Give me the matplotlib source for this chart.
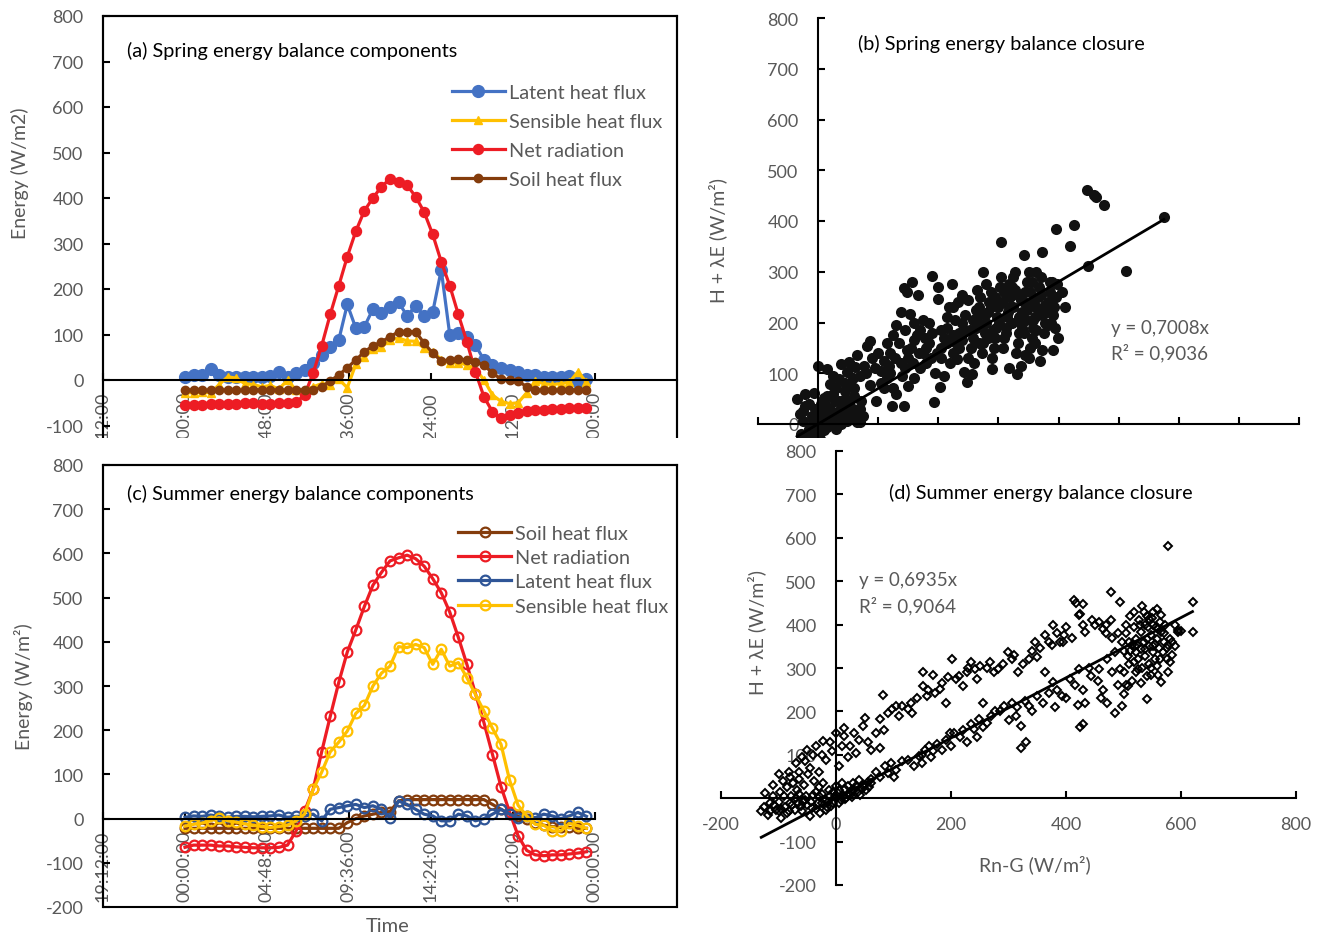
import numpy as np
import matplotlib
matplotlib.use("Agg")
import matplotlib.pyplot as plt
from matplotlib.patches import Rectangle

plt.rcParams['font.family'] = ['Lato', 'DejaVu Sans']
plt.rcParams['axes.unicode_minus'] = False
GREY = '#595959'
W, H = 1331, 937

# half-hourly time stamps (fraction of a day) and the category axis labels
t = np.arange(48) / 48.0
time_ticks = [-0.2, 0.0, 0.2, 0.4, 0.6, 0.8, 1.0]
time_labels = ['19:12:00', '00:00:00', '04:48:00', '09:36:00', '14:24:00', '19:12:00', '00:00:00']

# (a) spring mean diurnal cycle, W/m2
spr_le = [6, 10, 12, 24, 11, 6, 6, 7, 6, 7, 9, 17, 7, 15, 22, 37, 55, 73, 88, 166, 114, 117, 156, 147,
          161, 171, 141, 163, 141, 149, 242, 99, 103, 95, 77, 44, 33, 27, 22, 17, 10, 10, 7, 7, 7, 8, -4, 2]
spr_h = [-28, -28, -27, -28, -10, 7, 4, -8, -10, -15, -12, -20, 0, -22, -22, -15, -8, -10, 2, -17, 35, 50, 68, 72,
         88, 92, 86, 85, 70, 62, 45, 37, 38, 33, 25, 0, -33, -47, -52, -50, -28, -3, -8, -10, -8, -5, 18, -5]
spr_rn = [-55, -55, -54, -53, -53, -52, -52, -51, -51, -52, -52, -51, -50, -49, -33, 15, 75, 144, 207, 271, 327, 372, 400, 425,
          442, 436, 428, 403, 369, 320, 260, 207, 144, 84, 18, -37, -70, -84, -77, -73, -68, -66, -65, -64, -63, -62, -62, -62]
spr_g = [-22, -22, -23, -22, -22, -22, -23, -22, -22, -22, -22, -23, -22, -22, -22, -22, -15, -2, 11, 27, 44, 62, 75, 84,
         95, 106, 106, 106, 81, 59, 42, 44, 46, 44, 40, 33, 15, 2, 0, -2, -15, -22, -22, -22, -23, -22, -22, -22]

# (c) summer mean diurnal cycle, W/m2
sum_g = [-22, -22, -22, -22, -22, -22, -22, -22, -22, -22, -22, -22, -22, -22, -22, -22, -22, -22, -22, -9, 0, 6, 10, 14,
         16, 40, 43, 43, 43, 43, 43, 43, 43, 43, 43, 43, 32, 21, 10, 5, 0, -10, -15, -18, -20, -20, -22, -22]
sum_rn = [-65, -60, -60, -60, -62, -62, -64, -65, -66, -66, -66, -65, -60, -28, 17, 66, 151, 231, 308, 377, 427, 480, 528, 557,
          583, 590, 596, 588, 571, 543, 511, 467, 410, 349, 283, 217, 145, 72, 15, -39, -72, -82, -84, -82, -82, -80, -78, -75]
sum_le = [3, 6, 5, 8, 5, 3, 5, 5, 4, 5, 6, 8, 3, 5, 6, 10, -5, 21, 25, 29, 32, 25, 29, 21,
          2, 40, 32, 21, 10, 6, -5, -5, 10, 6, -5, 0, 10, 21, 10, 2, 6, 2, 10, 6, 0, 6, 14, 5]
sum_h = [-17, -13, -10, -5, 2, -5, -8, -12, -15, -18, -20, -18, -15, -5, 10, 66, 105, 151, 173, 198, 238, 256, 300, 329,
         345, 389, 387, 394, 387, 349, 383, 345, 353, 319, 281, 243, 204, 168, 87, 30, 6, -13, -15, -28, -28, -11, -16, -22]

# (b) spring closure: (Rn-G, H+LE) pairs
spring_low = [(-35, 49), (-22, 36), (-21, 59), (-7, 62), (10, 52), (-30, 20), (-25, 5), (-15, -10), (-10, 15), (-5, 30),
              (0, 0), (0, -20), (5, 10), (8, 25), (12, 40), (15, -5), (18, 15), (20, 30), (22, 5), (25, 20), (28, 45),
              (30, -10), (32, 10), (35, 25), (38, 0), (40, 35), (42, 15), (45, 50), (48, 5), (50, 25), (52, 40), (55, 10),
              (58, 30), (60, 55), (62, 18), (65, 3), (70, 30), (72, 45), (75, 15), (-28, -20), (-18, -25), (-8, -15),
              (3, -30), (10, -12), (21, 13), (7, 23), (-8, 7), (70, 3), (5, 40), (15, 55), (25, 60), (35, 45), (45, 65),
              (60, 70), (-15, 40), (-25, 25)]
spring_tail = [(0, 115), (15, 108), (35, 89), (38, 118), (52, 122), (62, 112), (48, 102), (76, 115), (69, 95), (86, 76),
               (97, 46), (30, 70), (45, 80), (58, 90), (25, 95), (80, 100), (90, 130), (86, 164), (81, 154), (100, 140),
               (95, 110), (65, 135), (55, 75), (20, 78), (105, 105)]
spring_mid = [(110, 125), (115, 90), (120, 140), (125, 70), (130, 195), (138, 220), (143, 267), (148, 261), (153, 217),
              (157, 280), (166, 255), (184, 199), (190, 292), (200, 269), (200, 246), (143, 36), (123, 36), (193, 43),
              (130, 60), (140, 95), (145, 110), (150, 130), (155, 150), (160, 165), (165, 175), (170, 185), (175, 140),
              (180, 120), (185, 160), (190, 180), (195, 100), (150, 75), (160, 90), (170, 110), (180, 150), (135, 160),
              (125, 175), (115, 160), (198, 140), (175, 205), (160, 200), (145, 185), (120, 100), (110, 70), (105, 80),
              (118, 115), (128, 130), (138, 120), (148, 145), (158, 120), (168, 140), (178, 170), (188, 130)]
spring_core = [(202, 72), (210, 95), (223, 276), (224, 230), (231, 129), (243, 102), (247, 82), (256, 99), (275, 299),
               (289, 108), (205, 150), (210, 170), (215, 190), (220, 120), (225, 140), (230, 160), (235, 180), (240, 200),
               (245, 215), (250, 130), (255, 150), (258, 170), (262, 190), (265, 210), (268, 230), (270, 250), (272, 140),
               (275, 160), (278, 180), (280, 200), (282, 220), (285, 240), (288, 260), (290, 130), (292, 150), (294, 170),
               (296, 190), (298, 210), (300, 230), (240, 165), (260, 120), (250, 245), (265, 265), (280, 275), (295, 250),
               (215, 210), (228, 205), (304, 358), (318, 110), (331, 99), (337, 115), (342, 333), (351, 131), (369, 125),
               (373, 146), (373, 338), (389, 280), (390, 146), (396, 384), (399, 169), (302, 270), (305, 290), (308, 150),
               (310, 170), (312, 190), (315, 210), (318, 230), (320, 250), (322, 270), (325, 290), (328, 300), (330, 140),
               (332, 160), (335, 180), (338, 200), (340, 220), (342, 240), (345, 260), (348, 280), (350, 300), (352, 150),
               (355, 170), (358, 190), (360, 210), (362, 230), (365, 250), (368, 270), (370, 290), (375, 180), (378, 200),
               (380, 220), (382, 240), (385, 260), (388, 200), (392, 230), (395, 250), (398, 275), (310, 260), (325, 230),
               (340, 190), (355, 280), (362, 300), (318, 275), (333, 255), (346, 205), (358, 240), (372, 215), (345, 135),
               (360, 160), (252, 185), (258, 205), (263, 225), (268, 160), (273, 195), (278, 215), (283, 170), (287, 230),
               (291, 185), (296, 245), (301, 200), (306, 240), (313, 180), (316, 220), (323, 200), (327, 265), (334, 210),
               (337, 245), (343, 180), (348, 225), (353, 260), (357, 205), (363, 185), (366, 225), (371, 255), (377, 235),
               (383, 195), (386, 280), (391, 215), (394, 190), (205, 130), (215, 160), (225, 175), (235, 150), (245, 185),
               (205, 185), (218, 230), (232, 240), (240, 255)]
spring_high = [(419, 350), (425, 393), (449, 312), (447, 462), (459, 451), (463, 447), (475, 432), (575, 407), (512, 302),
               (405, 260), (410, 230)]
spring_fit = (0.7008, 0.9036)

# (d) summer closure
summer_night = [(-119, -39), (-115, -12), (-123, 12), (-105, -27), (-86, -35), (-76, -15), (-61, -19), (-90, 4), (-68, 19),
                (-54, -4), (-40, 8), (-25, -12), (-11, 4), (4, 12), (18, 0), (32, 19), (-100, -30), (-95, -45), (-80, -10),
                (-70, 0), (-60, -30), (-50, -15), (-45, -40), (-35, -25), (-30, 5), (-20, -5), (-15, -20), (-5, -10), (0, 0),
                (8, -5), (12, 5), (22, 10), (28, 3), (38, 15), (45, 22), (-110, 5), (-130, -30), (-98, 15), (-85, 25),
                (-75, 35), (-65, 45), (-55, 30), (-48, 55), (-38, 40), (-30, 25), (-22, 35), (-12, 20), (0, 28), (10, 35),
                (20, 28), (-88, -20), (-72, -28), (-58, -8), (-42, -22), (-28, -35), (-18, -28), (-8, -18), (5, -12),
                (15, -2), (25, 8), (-100, -8), (-65, 10), (-35, 15), (-5, 15), (30, 35), (40, 42), (48, 30), (55, 38),
                (-125, -20), (-115, -30), (-108, -15), (-95, -25), (-82, -30), (-78, 5), (-66, -12), (-52, 5), (-44, -8),
                (-32, -10), (-24, 10), (-14, -8), (-2, 5), (6, 18), (16, 22), (26, 16), (34, 28), (42, 8), (52, 18),
                (58, 25), (-92, 40), (-82, 60), (-70, 80), (-60, 95), (-50, 110), (-35, 120), (-25, 100), (-10, 130),
                (0, 150), (10, 120), (-110, 30), (-100, 55)]
summer_upper = [(-22, 131), (-7, 108), (-40, 100), (-54, 85), (-18, 89), (-65, 60), (-80, 48), (-45, 70), (-30, 60),
                (14, 162), (14, 143), (32, 151), (40, 135), (50, 185), (47, 166), (61, 112), (76, 116), (25, 120), (5, 75),
                (20, 95), (35, 105), (55, 130), (70, 150), (81, 237), (76, 182), (83, 158), (90, 197), (97, 205), (104, 213),
                (115, 213), (133, 197), (130, 220), (151, 290), (151, 259), (159, 236), (169, 284), (173, 243), (180, 251),
                (202, 321), (191, 220), (214, 282), (220, 259), (227, 290), (234, 313), (241, 298), (245, 274), (256, 220),
                (267, 313), (274, 290), (281, 298), (299, 336), (306, 321), (317, 290), (335, 321), (346, 359), (350, 325),
                (364, 290), (364, 375), (375, 352), (378, 398), (389, 359), (396, 375), (400, 394), (414, 456), (422, 421),
                (429, 448), (433, 383), (450, 398), (458, 406), (465, 390), (479, 475), (494, 452), (479, 410), (110, 190),
                (125, 205), (140, 230), (160, 250), (185, 265), (195, 280), (208, 275), (230, 300), (250, 305), (262, 300),
                (290, 310), (310, 330), (325, 310), (340, 340), (355, 345), (370, 360), (385, 380), (395, 360), (410, 370),
                (430, 400), (445, 410), (470, 400)]
summer_lower = [(47, 27), (61, 35), (76, 50), (90, 58), (104, 66), (126, 89), (144, 97), (155, 112), (162, 120), (169, 108),
                (191, 135), (205, 151), (220, 158), (234, 170), (249, 182), (263, 174), (277, 201), (292, 213), (306, 220),
                (313, 189), (321, 166), (335, 213), (350, 236), (371, 243), (378, 267), (393, 236), (407, 274), (422, 298),
                (433, 220), (443, 282), (458, 298), (472, 321), (486, 336), (472, 220), (486, 197), (497, 213), (508, 259),
                (522, 290), (60, 45), (70, 60), (85, 75), (95, 80), (100, 50), (115, 85), (135, 75), (150, 100), (165, 95),
                (175, 125), (185, 110), (198, 150), (215, 140), (228, 130), (240, 160), (255, 165), (270, 190), (285, 200),
                (300, 180), (315, 210), (328, 225), (340, 200), (360, 220), (385, 250), (400, 230), (415, 260), (430, 250),
                (440, 300), (455, 270), (465, 250), (480, 290), (490, 260), (500, 240), (150, 80), (200, 120), (245, 140),
                (321, 116), (330, 130), (380, 210), (420, 215), (425, 165), (430, 170), (460, 230)]
summer_peak = [(508, 328), (515, 352), (522, 367), (530, 383), (537, 398), (544, 413), (551, 429), (559, 437), (566, 421),
               (573, 398), (580, 367), (569, 336), (559, 305), (541, 282), (526, 298), (519, 429), (533, 444), (551, 398),
               (541, 367), (559, 367), (566, 383), (551, 336), (537, 328), (530, 344), (594, 383), (577, 290), (566, 267),
               (541, 228), (620, 452), (620, 383), (595, 387), (577, 580), (580, 313), (555, 321), (522, 336), (519, 313),
               (501, 290), (494, 298), (505, 260), (510, 310), (520, 350), (535, 360), (545, 350), (555, 355), (560, 390),
               (570, 360), (548, 375), (528, 400), (540, 420), (512, 420), (505, 380), (500, 340), (515, 270), (530, 265),
               (548, 300), (562, 345), (575, 345), (585, 330), (590, 400), (600, 385), (545, 310), (525, 320), (505, 400),
               (498, 360), (490, 380), (480, 370), (470, 380), (418, 450), (425, 425), (510, 360), (518, 395), (527, 410),
               (535, 430), (542, 395), (550, 415), (557, 395), (564, 405), (571, 380), (578, 352), (585, 360), (590, 350),
               (552, 350), (538, 343), (524, 352), (512, 340), (563, 320), (547, 285), (532, 300), (560, 285), (575, 320)]
summer_fit = (0.6935, 0.9064)


def px_axes(left, top, right, bottom):
    return fig.add_axes([left / W, 1 - bottom / H, (right - left) / W, (bottom - top) / H])


def time_panel(ax, zero_end):
    ax.set_facecolor('none')
    ax.set_xlim(-0.2, 1.2)
    ax.set_ylim(-200, 800)
    ax.set_xticks(time_ticks, time_labels)
    ax.spines['bottom'].set_position(('data', 0))
    ax.spines['bottom'].set_bounds(-0.2, zero_end)
    for s in ax.spines.values():
        s.set_linewidth(1.5)
        s.set_color('black')
    ax.add_patch(Rectangle((0, 0), 1, 1, transform=ax.transAxes, fill=False,
                           lw=1.5, ec='black', clip_on=False))
    ax.tick_params(direction='in', length=5, width=1.5, labelsize=13, labelcolor=GREY)
    ax.tick_params(axis='y', pad=14)
    ax.tick_params(axis='x', pad=8, labelrotation=90)


def scatter_panel(ax, xlim, xstep, pts_lists, fit, marker_kw):
    ax.set_facecolor('none')
    x = [p[0] for pts in pts_lists for p in pts]
    y = [p[1] for pts in pts_lists for p in pts]
    ax.plot(x, y, ls='none', **marker_kw)
    xf = np.array([min(x), max(x)])
    ax.plot(xf, fit[0] * xf, color='black', lw=2)
    ax.set_xlim(*xlim)
    ax.set_ylim(-200, 800)
    ax.set_xticks(np.arange(xlim[0], xlim[1] + 1, xstep))
    for side in ['left', 'bottom']:
        ax.spines[side].set_position(('data', 0))
        ax.spines[side].set_linewidth(1.5)
        ax.spines[side].set_color('black')
    ax.spines['top'].set_visible(False)
    ax.spines['right'].set_visible(False)
    ax.tick_params(direction='in', length=5, width=1.5, labelsize=13, labelcolor=GREY)
    ax.tick_params(axis='y', pad=14)
    ax.tick_params(axis='x', pad=13)


fig = plt.figure(figsize=(W / 100, H / 100), dpi=100)

ax_a = px_axes(103, 17, 677, 472)
ax_b = px_axes(758, 19, 1299, 526.5)
ax_c = px_axes(103, 466, 677, 908)
ax_d = px_axes(721, 452, 1296, 886)
for ax in (ax_a, ax_b):
    ax.set_zorder(0)
for ax in (ax_c, ax_d):
    ax.set_zorder(2)
# white sheet of the lower charts, lying over the bottom of the upper ones
fig.add_artist(Rectangle((0, 0), 1, (H - 439) / H, transform=fig.transFigure,
                         facecolor='white', edgecolor='none', zorder=1))

TITLE = 14.3
LEG = 14.3

# ---- (a) spring components
ax_a.plot(t, spr_le, color='#4472C4', lw=2.3, marker='o', ms=8.5, label='Latent heat flux')
ax_a.plot(t, spr_h, color='#FFC000', lw=2.3, marker='^', ms=6, label='Sensible heat flux')
ax_a.plot(t, spr_rn, color='#ED1C24', lw=2.3, marker='o', ms=7.2, label='Net radiation')
ax_a.plot(t, spr_g, color='#843C0C', lw=2.3, marker='o', ms=6, label='Soil heat flux')
time_panel(ax_a, 1.2)
ax_a.set_yticks(np.arange(-100, 801, 100))
ax_a.set_ylabel('Energy (W/m2)', fontsize=14, color=GREY, va='center')
ax_a.yaxis.set_label_coords(-0.145, 0.657)
ax_a.text(0.042, 0.925, '(a) Spring energy balance components', transform=ax_a.transAxes,
          fontsize=TITLE, va='center', ha='left', color='black')
ax_a.legend(loc='upper left', bbox_to_anchor=(0.608, 0.85), frameon=False, fontsize=LEG,
            labelcolor=GREY, handlelength=2.66, handletextpad=0.2, labelspacing=0.6,
            borderpad=0, borderaxespad=0)

# ---- (c) summer components
open_kw = dict(lw=2.3, marker='o', ms=7, mfc='none', mew=1.6)
ax_c.plot(t, sum_g, color='#843C0C', label='Soil heat flux', **open_kw)
ax_c.plot(t, sum_rn, color='#ED1C24', label='Net radiation', **open_kw)
ax_c.plot(t, sum_le, color='#2F5597', label='Latent heat flux', **open_kw)
ax_c.plot(t, sum_h, color='#FFC000', label='Sensible heat flux', **open_kw)
time_panel(ax_c, 1.0)
ax_c.set_yticks(np.arange(-200, 801, 100))
ax_c.set_ylabel('Energy (W/m²)', fontsize=14, color=GREY, va='center')
ax_c.yaxis.set_label_coords(-0.138, 0.5)
ax_c.set_xlabel('Time', fontsize=14.5, color=GREY, va='center')
ax_c.xaxis.set_label_coords(0.4965, -0.041)
ax_c.text(0.042, 0.937, '(c) Summer energy balance components', transform=ax_c.transAxes,
          fontsize=TITLE, va='center', ha='left', color='black')
ax_c.legend(loc='upper left', bbox_to_anchor=(0.618, 0.864), frameon=False, fontsize=LEG,
            labelcolor=GREY, handlelength=2.7, handletextpad=0.2, labelspacing=0.36,
            borderpad=0, borderaxespad=0)

# ---- (b) spring closure
scatter_panel(ax_b, (-100, 800), 100,
              [spring_low, spring_tail, spring_mid, spring_core, spring_high], spring_fit,
              dict(marker='o', ms=8, color='#111111', mec='none'))
ax_b.set_yticks(np.arange(0, 801, 100))
ax_b.tick_params(axis='x', labelbottom=False)
ax_b.set_ylabel('H + λE (W/m²)', fontsize=14, color=GREY, va='center')
ax_b.yaxis.set_label_coords(-0.074, 0.5645)
ax_b.text(0.185, 0.951, '(b) Spring energy balance closure', transform=ax_b.transAxes,
          fontsize=TITLE, va='center', ha='left', color='black')
ax_b.text(0.6525, 0.391, 'y = %sx' % str(spring_fit[0]).replace('.', ','), transform=ax_b.transAxes,
          fontsize=13.5, va='center', ha='left', color=GREY)
ax_b.text(0.6525, 0.342, 'R² = %s' % str(spring_fit[1]).replace('.', ','), transform=ax_b.transAxes,
          fontsize=13.5, va='center', ha='left', color=GREY)

# ---- (d) summer closure
scatter_panel(ax_d, (-200, 800), 200,
              [summer_night, summer_upper, summer_lower, summer_peak], summer_fit,
              dict(marker='D', ms=4.2, mfc='none', mec='black', mew=1.4))
ax_d.set_yticks(np.arange(-200, 801, 100))
ax_d.set_ylabel('H + λE (W/m²)', fontsize=14, color=GREY, va='center')
ax_d.yaxis.set_label_coords(0.0626, 0.583)
ax_d.set_xlabel('Rn-G (W/m²)', fontsize=14, color=GREY, va='center')
ax_d.xaxis.set_label_coords(0.546, 0.048)
ax_d.text(0.292, 0.9055, '(d) Summer energy balance closure', transform=ax_d.transAxes,
          fontsize=TITLE, va='center', ha='left', color='black')
ax_d.text(0.24, 0.705, 'y = %sx' % str(summer_fit[0]).replace('.', ','), transform=ax_d.transAxes,
          fontsize=13.5, va='center', ha='left', color=GREY)
ax_d.text(0.24, 0.645, 'R² = %s' % str(summer_fit[1]).replace('.', ','), transform=ax_d.transAxes,
          fontsize=13.5, va='center', ha='left', color=GREY)

fig.savefig('out.png', dpi=100)
